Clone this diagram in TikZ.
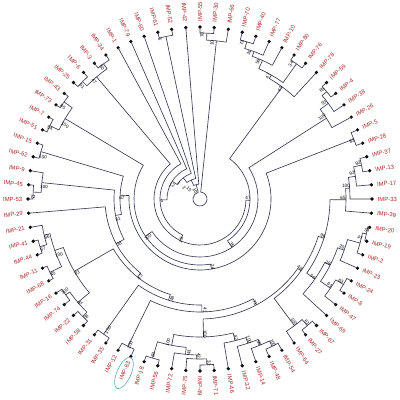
\documentclass[tikz,border=0pt]{standalone}
\usepackage{fontspec}
\setmainfont{Liberation Sans}
\begin{document}
\begin{tikzpicture}[x=0.025cm,y=0.025cm]
\useasboundingbox (-200,-201) rectangle (200,199);
\def\D{4.7368421}
\definecolor{brc}{RGB}{55,55,80}
\definecolor{lbc}{RGB}{165,40,40}
\tikzset{br/.style={draw=brc,line width=0.45pt},
 leaftxt/.style={text=lbc,font=\fontsize{4.2}{5}\selectfont,inner sep=0pt},
 bstxt/.style={font=\fontsize{3.3}{4}\selectfont,inner sep=0pt}}
\newcommand{\IN}[5]{%
 \draw[br] ({90-(#1-1)*\D}:#4) -- ({90-(#1-1)*\D}:#3) arc[start angle={90-(#1-1)*\D}, end angle={90-(#2-1)*\D}, radius=#3] -- ({90-(#2-1)*\D}:#5);}
\newcommand{\lf}[2]{%
 \pgfmathsetmacro{\la}{90-(#1-1)*\D}
 \fill (\la:172) circle (1.8);
 \ifdim\la pt<-90.01pt
   \pgfmathsetmacro{\lr}{\la+180}
   \node[leaftxt,anchor=east,rotate=\lr] (L#1) at (\la:177.5) {#2};
 \else
   \node[leaftxt,anchor=west,rotate=\la] (L#1) at (\la:177.5) {#2};
 \fi}
\newcommand{\bs}[3]{%
 \pgfmathsetmacro{\ba}{atan2(199-#2,#1-200)}
 \ifdim\ba pt>90.5pt \pgfmathsetmacro{\ba}{\ba-180}\fi
 \ifdim\ba pt<-90.5pt \pgfmathsetmacro{\ba}{\ba+180}\fi
 \node[bstxt,rotate=\ba] at (#1-200,199-#2) {#3};}
% leaves
\lf{1}{IMP-55}\lf{2}{IMP-30}\lf{3}{IMP-66}\lf{4}{IMP-70}\lf{5}{IMP-40}
\lf{6}{IMP-77}\lf{7}{IMP-10}\lf{8}{IMP-80}\lf{9}{IMP-76}\lf{10}{IMP-78}
\lf{11}{IMP-59}\lf{12}{IMP-4}\lf{13}{IMP-38}\lf{14}{IMP-26}\lf{15}{IMP-5}
\lf{16}{IMP-28}\lf{17}{IMP-37}\lf{18}{IMP-13}\lf{19}{IMP-17}\lf{20}{IMP-33}
\lf{21}{IMP-39}\lf{22}{IMP-20}\lf{23}{IMP-19}\lf{24}{IMP-2}\lf{25}{IMP-23}
\lf{26}{IMP-24}\lf{27}{IMP-8}\lf{28}{IMP-47}\lf{29}{IMP-69}\lf{30}{IMP-67}
\lf{31}{IMP-27}\lf{32}{IMP-64}\lf{33}{IMP-54}\lf{34}{IMP-48}\lf{35}{IMP-14}
\lf{36}{IMP-32}\lf{37}{IMP-46}\lf{38}{IMP-71}\lf{39}{IMP-49}\lf{40}{IMP-75}
\lf{41}{IMP-72}\lf{42}{IMP-56}\lf{43}{IMP-18}\lf{44}{IMP-63}\lf{45}{IMP-12}
\lf{46}{IMP-35}\lf{47}{IMP-31}\lf{48}{IMP-58}\lf{49}{IMP-22}\lf{50}{IMP-74}
\lf{51}{IMP-16}\lf{52}{IMP-68}\lf{53}{IMP-11}\lf{54}{IMP-44}\lf{55}{IMP-41}
\lf{56}{IMP-21}\lf{57}{IMP-29}\lf{58}{IMP-53}\lf{59}{IMP-45}\lf{60}{IMP-9}
\lf{61}{IMP-62}\lf{62}{IMP-15}\lf{63}{IMP-51}\lf{64}{IMP-7}\lf{65}{IMP-73}
\lf{66}{IMP-43}\lf{67}{IMP-25}\lf{68}{IMP-6}\lf{69}{IMP-3}\lf{70}{IMP-34}
\lf{71}{IMP-1}\lf{72}{IMP-79}\lf{73}{IMP-60}\lf{74}{IMP-61}\lf{75}{IMP-52}
\lf{76}{IMP-42}
% top
\IN{1}{2}{166}{172}{172}\IN{1.5}{3}{159}{166}{172}
% top right
\IN{4}{5}{164}{172}{172}\IN{4.5}{6}{157}{164}{172}\IN{5.25}{7}{152}{157}{172}
\IN{8}{9}{166}{172}{172}\IN{6.125}{8.5}{143}{152}{166}\IN{7.3125}{10}{139}{143}{172}
% right
\IN{11}{12}{166}{172}{172}\IN{11.5}{13}{160}{166}{172}\IN{12.25}{14}{150}{160}{172}
\IN{15}{16}{165}{172}{172}
\IN{17}{18}{165}{172}{172}\IN{17.5}{19}{157}{165}{172}\IN{18.25}{20}{150}{157}{172}\IN{19.125}{21}{146}{150}{172}
\IN{22}{23}{170}{172}{172}\IN{22.5}{24}{166}{170}{172}\IN{23.25}{25}{153}{166}{172}
\IN{26}{27}{167}{172}{172}\IN{26.5}{28}{158}{167}{172}\IN{24.125}{27.25}{146}{153}{158}
\IN{25.6875}{29}{140}{146}{172}\IN{20.0625}{27.34375}{130}{146}{140}
\IN{30}{31}{166}{172}{172}\IN{30.5}{32}{158}{166}{172}
\IN{23.703}{31.25}{124}{130}{158}
% bottom
\IN{33}{34}{164}{172}{172}\IN{33.5}{35}{158}{164}{172}\IN{34.25}{36}{152}{158}{172}\IN{35.125}{37}{146}{152}{172}
\IN{38}{39}{166}{172}{172}\IN{38.5}{40}{160}{166}{172}\IN{39.25}{41}{156}{160}{172}
\IN{42}{43}{166}{172}{172}\IN{40.125}{42.5}{149}{156}{166}
\IN{36.0625}{41.3125}{138}{146}{149}
\IN{27.477}{38.6875}{120}{124}{138}
\IN{44}{45}{164}{172}{172}\IN{33.082}{44.5}{113}{120}{164}
\IN{46}{47}{166}{172}{172}\IN{38.791}{46.5}{106}{113}{166}
% left
\IN{48}{49}{166}{172}{172}\IN{50}{51}{165}{172}{172}\IN{48.5}{50.5}{160}{166}{165}
\IN{52}{53}{167}{172}{172}\IN{54}{55}{167}{172}{172}\IN{54.5}{56}{160}{167}{172}\IN{52.5}{55.25}{154}{167}{160}
\IN{49.5}{53.875}{145}{160}{154}
\IN{42.646}{51.6875}{100}{106}{145}
\IN{47.167}{57}{95}{100}{172}
\IN{58}{59}{167}{172}{172}\IN{58.5}{60}{159}{167}{172}
\IN{52.083}{59.25}{86}{95}{159}
\IN{61}{62}{166}{172}{172}\IN{55.667}{61.5}{80}{86}{166}
\IN{15.5}{58.583}{71}{165}{80}
% top left
\IN{63}{64}{167}{172}{172}\IN{65}{66}{167}{172}{172}\IN{63.5}{65.5}{157}{167}{167}
\IN{37.042}{64.5}{66}{71}{157}
\IN{13.125}{50.771}{58}{150}{66}
\IN{8.65625}{31.948}{50}{139}{58}
\IN{67}{68}{166}{172}{172}\IN{69}{70}{166}{172}{172}\IN{67.5}{69.5}{160}{166}{166}
\IN{20.302}{68.5}{46}{50}{160}
% spine
\IN{44.401}{71}{40}{46}{172}
\IN{57.70}{72}{33}{40}{172}
\IN{64.85}{73}{27}{33}{172}
\IN{74}{75}{166}{172}{172}
\IN{68.925}{74.5}{21}{27}{166}
\IN{71.71}{76}{15}{21}{172}
\IN{2.25}{73.86}{7}{159}{15}
% bootstrap
\bs{202}{35}{70}\bs{212}{43}{10}\bs{242}{43}{73}\bs{249}{53}{31}\bs{258}{62}{56}
\bs{291}{64}{34}\bs{268}{76}{47}\bs{280}{89}{45}
\bs{322}{90}{65}\bs{324}{103}{53}\bs{322}{117}{100}\bs{352}{141}{82}
\bs{358}{163}{92}\bs{352}{173}{92}\bs{346}{186}{100}\bs{343}{198}{65}
\bs{323}{236}{96}\bs{367}{230}{33}\bs{360}{238}{47}\bs{342}{247}{20}\bs{328}{263}{28}
\bs{341}{281}{63}\bs{330}{285}{61}\bs{313}{277}{50}\bs{300}{268}{48}
\bs{307}{322}{61}\bs{294}{322}{100}\bs{255}{303}{71}
\bs{273}{343}{100}\bs{259}{343}{56}\bs{249}{340}{100}\bs{236}{338}{42}\bs{205}{334}{100}\bs{205}{310}{41}
\bs{209}{363}{32}\bs{199}{356}{42}\bs{189}{352}{41}\bs{153}{355}{63}\bs{168}{342}{100}
\bs{130}{345}{100}\bs{108}{330}{100}\bs{172}{299}{48}\bs{140}{277}{43}
\bs{86}{317}{58}\bs{80}{303}{91}\bs{65}{291}{100}\bs{53}{274}{45}\bs{77}{273}{83}
\bs{59}{255}{100}\bs{43}{249}{67}\bs{47}{237}{86}
\bs{119}{244}{38}\bs{118}{219}{31}\bs{122}{198}{67}
\bs{33}{197}{72}\bs{44}{187}{100}\bs{43}{157}{100}
\bs{50}{128}{54}\bs{65}{125}{100}\bs{63}{107}{85}\bs{82}{86}{51}\bs{94}{81}{47}\bs{102}{68}{50}
\bs{160}{39}{6}
\bs{162}{201}{1}\bs{248}{198}{47}\bs{213}{267}{24}\bs{181}{240}{15}\bs{232}{245}{35}\bs{148}{237}{100}
\bs{172}{185}{12}\bs{179}{183}{1}\bs{184}{188}{2}\bs{189}{189}{15}\bs{195}{191}{10}
% highlight
\draw[draw={rgb,255:red,90;green,170;blue,180},line width=0.4pt,rotate around={66:(-76,-174)}] (-76,-174) ellipse (17 and 7);
\end{tikzpicture}
\end{document}
